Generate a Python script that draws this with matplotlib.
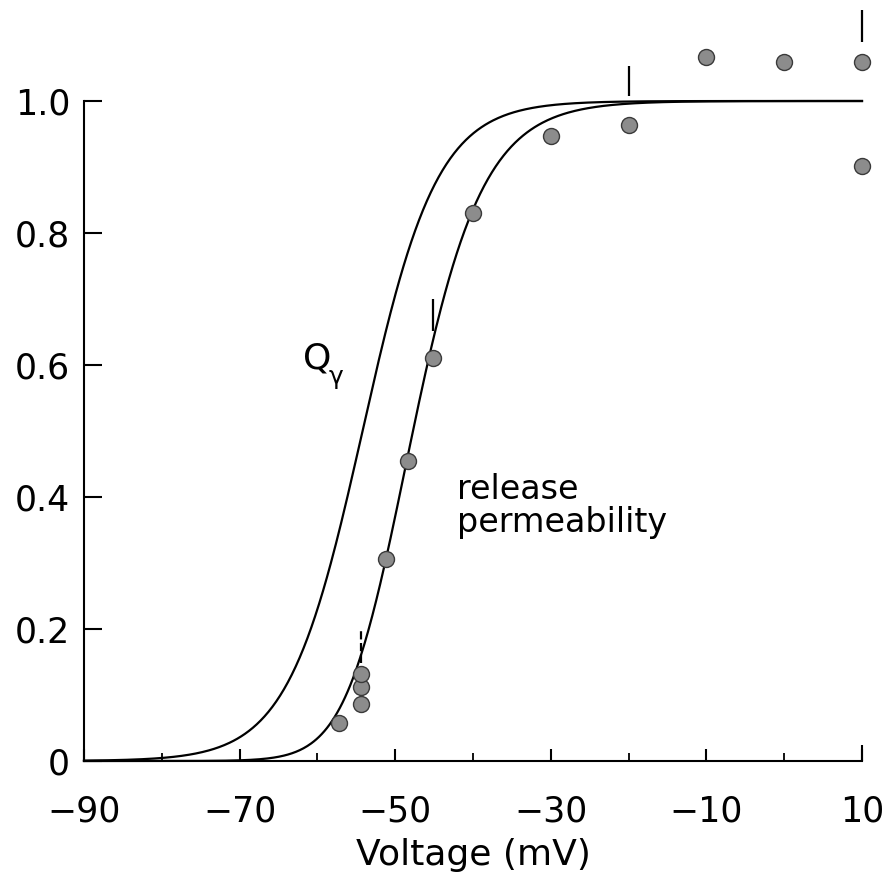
import numpy as np
import matplotlib
matplotlib.use("Agg")
import matplotlib.pyplot as plt

# ---- data ----
volt = [-57.2, -54.4, -54.4, -54.4, -51.2, -48.4, -45.1, -40.0, -30.0, -20.0, -10.0, 0.0, 10.0, 10.0]
release = [0.058, 0.087, 0.112, 0.132, 0.306, 0.454, 0.611, 0.831, 0.947, 0.964, 1.067, 1.059, 1.059, 0.902]

# error-bar segments (as drawn)
err_v = [-54.4, -45.1, -20.0, 10.0]
err_lo = [0.148, 0.652, 1.008, 1.089]
err_hi = [0.198, 0.700, 1.053, 1.138]
err_style = ["dashed", "solid", "solid", "solid"]

# fitted curves (Boltzmann parameters)
q_half, q_slope = -54.2, 4.8
rel_half, rel_slope, rel_power = -52.3, 5.2, 2.0

x_major = [-90, -70, -50, -30, -10, 10]
x_major_labels = ["\u221290", "\u221270", "\u221250", "\u221230", "\u221210", "10"]
x_minor = [-80, -60, -40, -20, 0]
y_ticks = [0, 0.2, 0.4, 0.6, 0.8, 1.0]
y_labels = ["0", "0.2", "0.4", "0.6", "0.8", "1.0"]

plt.rcParams['font.family'] = ['DejaVu Sans']

W, H = 889, 877
fig = plt.figure(figsize=(W / 100, H / 100), dpi=100)
ax = fig.add_axes([84 / W, (H - 761) / H, (862 - 84) / W, (761 - 101) / H])
ax.set_xlim(-90, 10)
ax.set_ylim(0, 1.0)

for s in ["top", "right"]:
    ax.spines[s].set_visible(False)
for s in ["left", "bottom"]:
    ax.spines[s].set_linewidth(1.5)
    ax.spines[s].set_color("black")

v = np.linspace(-90, 10, 600)
q_curve = 1.0 / (1.0 + np.exp((q_half - v) / q_slope))
rel_curve = (1.0 / (1.0 + np.exp((rel_half - v) / rel_slope))) ** rel_power
ax.plot(v, q_curve, color="black", lw=1.6, clip_on=False)
ax.plot(v, rel_curve, color="black", lw=1.6, clip_on=False)

for xv, lo, hi, st in zip(err_v, err_lo, err_hi, err_style):
    ax.vlines(xv, lo, hi, colors="black", linestyles=st, lw=1.6, clip_on=False)

ax.plot(volt, release, "o", ms=11.5, mfc="#8c8c8c", mec="#3a3a3a", mew=1.0,
        clip_on=False, zorder=5)

ax.set_xticks(x_major)
ax.set_xticklabels(x_major_labels)
ax.set_xticks(x_minor, minor=True)
ax.set_yticks(y_ticks)
ax.set_yticklabels(y_labels)

ax.tick_params(axis="x", which="major", direction="in", length=9, width=1.5,
               pad=24, labelsize=25)
ax.tick_params(axis="x", which="minor", direction="in", length=6, width=1.3)
ax.tick_params(axis="y", which="major", direction="in", length=13, width=1.5,
               pad=10, labelsize=25)
# taller end tick at the right end of the x axis
ax.vlines(10, 0, 0.024, colors="black", lw=1.5, clip_on=False)

ax.set_xlabel("Voltage (mV)", fontsize=26, labelpad=7)

ax.text(-61.9, 0.595, "Q", fontsize=26, ha="left", va="baseline")
ax.text(-58.6, 0.600, "\u03b3", fontsize=18, ha="left", va="top")
ax.text(-42.1, 0.397, "release", fontsize=24, ha="left", va="baseline")
ax.text(-42.1, 0.347, "permeability", fontsize=24, ha="left", va="baseline")

fig.savefig("out.png", dpi=100)
